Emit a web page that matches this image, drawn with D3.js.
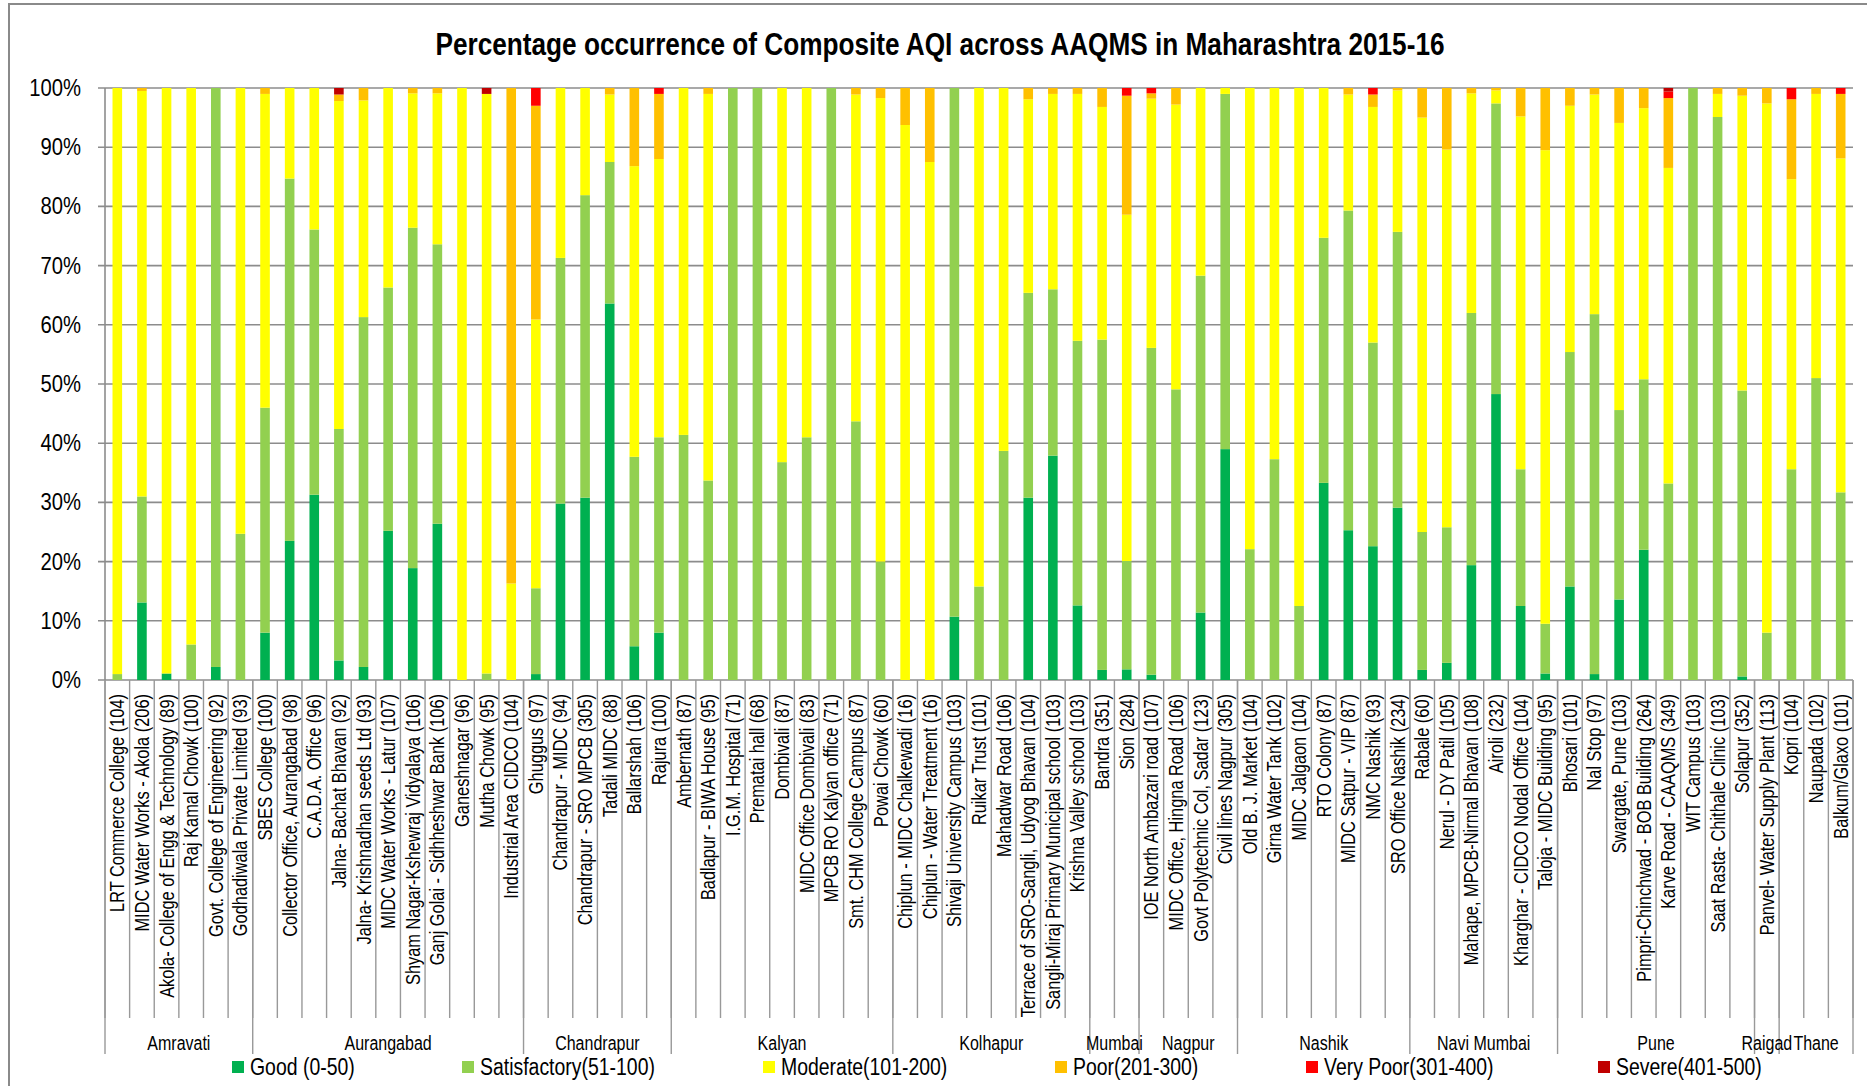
<!DOCTYPE html>
<html>
<head>
<meta charset="utf-8">
<script src="https://cdn.jsdelivr.net/npm/d3@7"></script>
<style>
  body { margin: 0; background: #fff; }
  svg { font-family: "Liberation Sans", Arial, sans-serif; }
</style>
</head>
<body>
<div id="chart"></div>
<script>
// Station names (number of days in brackets)
var stations = [
  "LRT Commerce College (104)", "MIDC Water Works - Akola (206)", "Akola- College of Engg & Technology (89)",
  "Raj Kamal Chowk (100)", "Govt. College of Engineering (92)", "Godhadiwala Private Limited (93)",
  "SBES College (100)", "Collector Office, Aurangabad (98)", "C.A.D.A. Office (96)", "Jalna- Bachat Bhavan (92)",
  "Jalna- Krishnadhan seeds Ltd (93)", "MIDC Water Works - Latur (107)", "Shyam Nagar-Kshewraj Vidyalaya (106)",
  "Ganj Golai - Sidhheshwar Bank (106)", "Ganeshnagar (96)", "Mutha Chowk (95)", "Industrial Area CIDCO (104)",
  "Ghuggus (97)", "Chandrapur - MIDC (94)", "Chandrapur - SRO MPCB (305)", "Tadali MIDC (88)", "Ballarshah (106)",
  "Rajura (100)", "Ambernath (87)", "Badlapur - BIWA House (95)", "I.G.M. Hospital (71)", "Prematai hall (68)",
  "Dombivali (87)", "MIDC Office Dombivali (83)", "MPCB RO Kalyan office (71)", "Smt. CHM College Campus (87)",
  "Powai Chowk (60)", "Chiplun - MIDC Chalkewadi (16)", "Chiplun - Water Treatment (16)",
  "Shivaji University Campus (103)", "Ruikar Trust (101)", "Mahadwar Road (106)",
  "Terrace of SRO-Sangli, Udyog Bhavan (104)", "Sangli-Miraj Primary Municipal school (103)",
  "Krishna Valley school (103)", "Bandra (351)", "Sion (284)", "IOE North Ambazari road (107)",
  "MIDC Office, Hingna Road (106)", "Govt Polytechnic Col, Sadar (123)", "Civil lines Nagpur (305)",
  "Old B. J. Market (104)", "Girna Water Tank (102)", "MIDC Jalgaon (104)", "RTO Colony (87)",
  "MIDC Satpur - VIP (87)", "NMC Nashik (93)", "SRO Office Nashik (234)", "Rabale (60)", "Nerul - DY Patil (105)",
  "Mahape, MPCB-Nirmal Bhavan (108)", "Airoli (232)", "Kharghar - CIDCO Nodal Office (104)",
  "Taloja - MIDC Building (95)", "Bhosari (101)", "Nal Stop (97)", "Swargate, Pune (103)",
  "Pimpri-Chinchwad - BOB Building (264)", "Karve Road - CAAQMS (349)", "WIT Campus (103)",
  "Saat Rasta- Chithale Clinic (103)", "Solapur (352)", "Panvel- Water Supply Plant (113)", "Kopri (104)",
  "Naupada (102)", "Balkum/Glaxo (101)"
];

var regions = ["Amravati", "Aurangabad", "Chandrapur", "Kalyan", "Kolhapur", "Mumbai", "Nagpur",
               "Nashik", "Navi Mumbai", "Pune", "Raigad", "Thane"];
var regionSizes = [6, 11, 6, 9, 8, 2, 4, 7, 6, 8, 1, 3];

// % of days in each AQI class, one value per station
var good = [0, 13.1, 1.1, 0, 2.2, 0, 8.0, 23.5, 31.3, 3.3, 2.2, 25.2, 18.9, 26.4, 0, 0, 0,
  1.0, 29.8, 30.8, 63.6, 5.7, 8.0, 0, 0, 0, 0, 0, 0, 0, 0, 0, 0, 0, 10.7, 0, 0, 30.8, 37.9, 12.6,
  1.7, 1.8, 0.9, 0, 11.4, 39.0, 0, 0, 0, 33.3, 25.3, 22.6, 29.1, 1.7, 2.9, 19.4, 48.3, 12.5, 1.1,
  15.8, 1.0, 13.6, 22.0, 0, 0, 0, 0.6, 0, 0, 0, 0];
var satisfactory = [1.0, 17.9, 0, 6.0, 97.8, 24.7, 38.0, 61.2, 44.8, 39.1, 59.1, 41.1, 57.5, 47.2, 0, 1.1, 0,
  14.5, 41.5, 51.1, 23.9, 32.0, 33.0, 41.4, 33.7, 100, 100, 36.8, 41.0, 100, 43.7, 20.0, 0, 0, 89.3, 15.8, 38.7, 34.6, 28.1, 44.7,
  55.8, 18.3, 55.2, 49.1, 56.9, 60.0, 22.1, 37.3, 12.5, 41.4, 54.0, 34.4, 46.6, 23.3, 22.9, 42.6, 49.1, 23.1, 8.4,
  39.6, 60.8, 32.0, 28.8, 33.2, 100, 95.1, 48.3, 8.0, 35.6, 51.0, 31.7];
var moderate = [99.0, 68.5, 98.9, 94.0, 0, 75.3, 53.0, 15.3, 23.9, 55.4, 36.6, 33.7, 22.7, 25.5, 100, 97.9, 16.3,
  45.4, 28.7, 18.1, 11.4, 49.1, 47.0, 58.6, 65.3, 0, 0, 63.2, 59.0, 0, 55.2, 78.3, 93.75, 87.5, 0, 84.2, 61.3, 32.7, 33.0, 41.7,
  39.3, 58.5, 42.1, 48.1, 31.7, 1.0, 77.9, 62.7, 87.5, 25.3, 19.6, 39.8, 23.9, 70.0, 63.8, 37.1, 2.2, 59.6, 80.0,
  41.6, 37.1, 48.5, 45.8, 53.3, 0, 3.9, 49.8, 89.4, 49.0, 48.0, 56.4];
var poor = [0, 0.5, 0, 0, 0, 0, 1.0, 0, 0, 1.1, 2.1, 0, 0.9, 0.9, 0, 0, 83.7,
  36.1, 0, 0, 1.1, 13.2, 11.0, 0, 1.0, 0, 0, 0, 0, 0, 1.1, 1.7, 6.25, 12.5, 0, 0, 0, 1.9, 1.0, 1.0,
  3.2, 20.1, 0.9, 2.8, 0, 0, 0, 0, 0, 0, 1.1, 2.1, 0.4, 5.0, 10.4, 0.9, 0.4, 4.8, 10.5,
  3.0, 1.1, 5.9, 3.4, 11.8, 0, 1.0, 1.3, 2.6, 13.5, 1.0, 10.9];
var veryPoor = [0, 0, 0, 0, 0, 0, 0, 0, 0, 0, 0, 0, 0, 0, 0, 0, 0,
  3.0, 0, 0, 0, 0, 1.0, 0, 0, 0, 0, 0, 0, 0, 0, 0, 0, 0, 0, 0, 0, 0, 0, 0,
  0, 1.3, 0.9, 0, 0, 0, 0, 0, 0, 0, 0, 1.1, 0, 0, 0, 0, 0, 0, 0,
  0, 0, 0, 0, 1.1, 0, 0, 0, 0, 1.9, 0, 1.0];
var severe = [0, 0, 0, 0, 0, 0, 0, 0, 0, 1.1, 0, 0, 0, 0, 0, 1.0, 0,
  0, 0, 0, 0, 0, 0, 0, 0, 0, 0, 0, 0, 0, 0, 0, 0, 0, 0, 0, 0, 0, 0, 0,
  0, 0, 0, 0, 0, 0, 0, 0, 0, 0, 0, 0, 0, 0, 0, 0, 0, 0, 0,
  0, 0, 0, 0, 0.6, 0, 0, 0, 0, 0, 0, 0];

var seriesNames = ["Good (0-50)", "Satisfactory(51-100)", "Moderate(101-200)",
                   "Poor(201-300)", "Very Poor(301-400)", "Severe(401-500)"];
var seriesColors = ["#00b050", "#92d050", "#ffff00", "#ffc000", "#ff0000", "#c00000"];
var yTicks = [0, 10, 20, 30, 40, 50, 60, 70, 80, 90, 100];
var legendX = [232, 462, 763, 1055, 1306, 1598];

// plot area (window.top is reserved, so no "top" here)
var width = 1867,
    height = 1086,
    plotLeft = 105, plotRight = 1853,
    plotTop = 88, plotBottom = 680;

// table for d3.stack
var allSeries = [good, satisfactory, moderate, poor, veryPoor, severe];
var table = stations.map(function(s, i) {
  var row = {station: i};
  seriesNames.forEach(function(k, j) { row[k] = allSeries[j][i]; });
  return row;
});
var stacked = d3.stack().keys(seriesNames)(table);

var x = d3.scaleBand()
  .domain(d3.range(stations.length))
  .range([plotLeft, plotRight])
  .paddingInner(0.61)
  .paddingOuter(0.305);

var y = d3.scaleLinear()
  .domain([0, 100])
  .range([plotBottom, plotTop]);

var color = d3.scaleOrdinal().domain(seriesNames).range(seriesColors);

var svg = d3.select("#chart")
  .append("svg")
  .attr("width", width)
  .attr("height", height);

// chart frame
svg.append("rect")
  .attr("x", 9).attr("y", 4)
  .attr("width", 1900).attr("height", 1200)
  .style("fill", "#fff")
  .style("stroke", "#8a8a8a")
  .style("stroke-width", 2);

svg.append("text")
  .attr("x", 940).attr("y", 44)
  .attr("dy", "0.35em")
  .attr("text-anchor", "middle")
  .attr("textLength", 1009)
  .attr("lengthAdjust", "spacingAndGlyphs")
  .style("font-weight", "bold")
  .style("font-size", "31px")
  .text("Percentage occurrence of Composite AQI across AAQMS in Maharashtra 2015-16");

// gridlines + y labels
var grid = svg.append("g");
grid.selectAll("line")
  .data(yTicks)
  .enter()
  .append("line")
  .attr("x1", plotLeft - 7).attr("x2", plotRight)
  .attr("y1", function(d) { return y(d); })
  .attr("y2", function(d) { return y(d); })
  .style("stroke", "#8c8c8c")
  .style("stroke-width", 1.6);

grid.selectAll("text")
  .data(yTicks)
  .enter()
  .append("text")
  .attr("transform", function(d) { return "translate(81," + y(d) + ") scale(0.88,1)"; })
  .attr("dy", "0.35em")
  .attr("text-anchor", "end")
  .style("font-size", "23px")
  .text(function(d) { return d + "%"; });

svg.append("line")
  .attr("x1", plotLeft).attr("x2", plotLeft)
  .attr("y1", plotTop).attr("y2", plotBottom)
  .style("stroke", "#8c8c8c")
  .style("stroke-width", 1.6);

// stacked bars
svg.append("g")
  .selectAll("g")
  .data(stacked)
  .enter()
  .append("g")
  .style("fill", function(d) { return color(d.key); })
  .selectAll("rect")
  .data(function(d) { return d; })
  .enter()
  .append("rect")
  .attr("x", function(d) { return x(d.data.station); })
  .attr("width", x.bandwidth())
  .attr("y", function(d) { return y(d[1]); })
  .attr("height", function(d) { return y(d[0]) - y(d[1]); });

// category tick lines
var step = x.step();
function edge(i) { return x(0) + x.bandwidth() / 2 - step / 2 + i * step; }

svg.append("g")
  .selectAll("line")
  .data(d3.range(stations.length + 1))
  .enter()
  .append("line")
  .attr("x1", edge).attr("x2", edge)
  .attr("y1", plotBottom).attr("y2", 1018)
  .style("stroke", "#999")
  .style("stroke-width", 1.4);

// station labels (narrow, rotated)
svg.append("g")
  .selectAll("text")
  .data(stations)
  .enter()
  .append("text")
  .attr("transform", function(d, i) {
    return "translate(" + (x(i) + x.bandwidth() / 2) + ",694) rotate(-90) scale(0.82,1)";
  })
  .attr("dy", "0.35em")
  .attr("text-anchor", "end")
  .style("font-size", "20px")
  .text(function(d) { return d; });

// region groups
var starts = [0];
regionSizes.forEach(function(n, i) { starts.push(starts[i] + n); });

svg.append("g")
  .selectAll("line")
  .data(starts)
  .enter()
  .append("line")
  .attr("x1", edge).attr("x2", edge)
  .attr("y1", plotBottom).attr("y2", 1054)
  .style("stroke", "#999")
  .style("stroke-width", 1.4);

svg.append("g")
  .selectAll("text")
  .data(regions)
  .enter()
  .append("text")
  .attr("transform", function(d, i) {
    var cx = (edge(starts[i]) + edge(starts[i + 1])) / 2;
    return "translate(" + cx + ",1043) scale(0.8,1)";
  })
  .attr("dy", "0.35em")
  .attr("text-anchor", "middle")
  .style("font-size", "20px")
  .text(function(d) { return d; });

// legend
var legend = svg.append("g")
  .selectAll("g")
  .data(seriesNames)
  .enter()
  .append("g")
  .attr("transform", function(d, i) { return "translate(" + legendX[i] + ",1067)"; });

legend.append("rect")
  .attr("x", 0).attr("y", -6)
  .attr("width", 12).attr("height", 12)
  .style("fill", function(d) { return color(d); });

legend.append("text")
  .attr("transform", "translate(18,0) scale(0.81,1)")
  .attr("dy", "0.35em")
  .style("font-size", "24px")
  .text(function(d) { return d; });
</script>
</body>
</html>
